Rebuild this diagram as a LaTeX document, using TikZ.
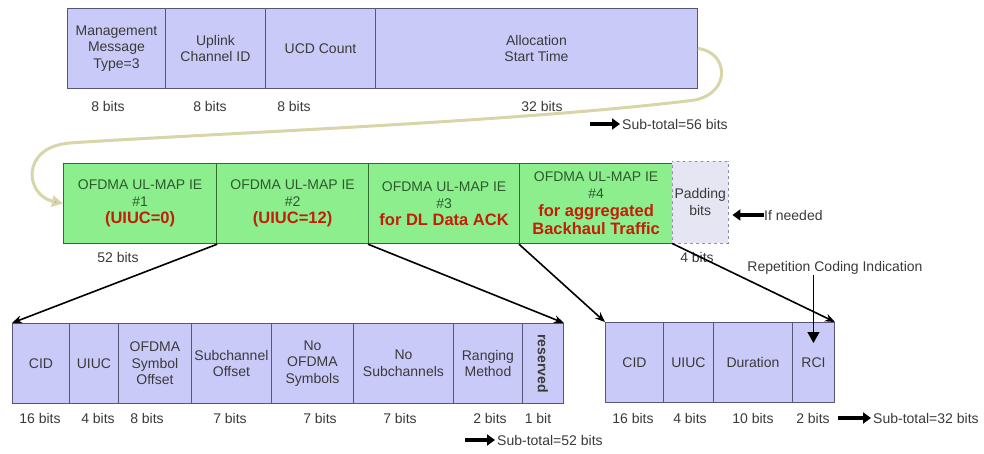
\documentclass[tikz,border=0pt]{standalone}
\usepackage{fontspec,graphicx}
\setmainfont{Liberation Sans}
\usetikzlibrary{arrows.meta,patterns}
\definecolor{Fc}{HTML}{CACAF8}
\definecolor{Fl}{HTML}{56567A}
\definecolor{Gc}{HTML}{8CEE8C}
\definecolor{Gl}{HTML}{2F6A2F}
\definecolor{Gt}{HTML}{2E5A2E}
\definecolor{Rt}{HTML}{C41E0A}
\definecolor{Pc}{HTML}{E6E6F6}
\definecolor{Cv}{HTML}{D8D6A8}
\definecolor{ink}{HTML}{3A3A3A}
\tikzset{
  fld/.style={draw=Fl, fill=Fc, line width=0.9pt, inner sep=0pt, minimum height=80pt,
    anchor=north west, align=center, text=ink, font=\fontsize{14}{16.5}\selectfont},
  ie/.style={draw=Gl, fill=Gc, line width=1.2pt, inner sep=0pt, minimum height=80pt,
    anchor=north west, align=center, text=Gt, font=\fontsize{14}{17}\selectfont},
  pad/.style={draw=Fl!70, dashed, fill=Pc, postaction={pattern=crosshatch dots, pattern color=black!10},
    inner sep=0pt, minimum height=82pt, anchor=north west, align=center, text=ink,
    font=\fontsize{14}{17}\selectfont},
  bits/.style={text=ink, inner sep=0pt, font=\fontsize{14}{16}\selectfont},
  link/.style={-{Stealth[length=10pt,width=8pt]}, line width=1.6pt},
  drop/.style={-{Triangle[length=11pt,width=12pt]}, line width=1.2pt},
  fat/.style={-{Triangle[length=8pt,width=11pt]}, line width=3.5pt},
  swoop/.style={draw=Cv, line width=3pt, -{Triangle[length=11pt,width=11pt,fill=Cv!80!black]}},
}
\newcommand{\hot}[1]{{\color{Rt}\fontsize{16.5}{19}\selectfont\bfseries #1}}

\begin{document}
\begin{tikzpicture}[x=1pt,y=-1pt]
  \fill[white] (0,0) rectangle (984,454);
  \useasboundingbox (0,0) rectangle (984,454);
  % management message header
  \node[fld, minimum width=98pt] (mmt) at (67,8) {Management\\Message\\Type=3};
  \node[fld, minimum width=100pt] (ulc) at (165,8) {Uplink\\Channel ID};
  \node[fld, minimum width=110pt] (ucd) at (265,8) {UCD Count};
  \node[fld, minimum width=322pt] (ast) at (375,8) {Allocation\\Start Time};
  \node[bits] (mmtb) at (108,106) {8 bits};
  \node[bits] (ulcb) at (210,106) {8 bits};
  \node[bits] (ucdb) at (294,106) {8 bits};
  \node[bits] (astb) at (542,106) {32 bits};
  \coordinate (s56) at (590,124);
  \node[bits, anchor=west] (sub56) at (622,124) {Sub-total=56 bits};
  \draw[fat, shorten >=2pt] (s56) -- (sub56.west);
  % UL-MAP IEs
  \node[ie, minimum width=153pt] (ie1) at (63,163) {OFDMA UL-MAP IE\\\#1\\\hot{(UIUC=0)}};
  \node[ie, minimum width=152pt] (ie2) at (216,163) {OFDMA UL-MAP IE\\\#2\\\hot{(UIUC=12)}};
  \node[ie, minimum width=151pt] (ie3) at (368,163) {OFDMA UL-MAP IE\\\#3\\\hot{for DL Data ACK}};
  \node[ie, minimum width=153pt] (ie4) at (519,163)
    {OFDMA UL-MAP IE\\\#4\\[1pt]\hot{for aggregated}\\[1pt]\hot{Backhaul Traffic}};
  \node[pad, minimum width=56pt] (pad) at (672,161) {Padding\\bits};
  \node[bits] (ie1b) at (118,257) {52 bits};
  \node[bits] (padb) at (697,257) {4 bits};
  \node[bits, anchor=west] (need) at (764,215) {If needed};
  \draw[fat, shorten >=4pt] (need.west) -- (need.west -| pad.east);
  \draw[swoop] (ast.east) .. controls (728,52) and (732,92) .. (695,100)
    .. controls (520,122) and (200,134) .. (70,143)
    .. controls (20,147) and (25,195) .. (ie1.west);
  % UIUC=0 fields
  \node[fld, minimum width=57pt] (cid) at (12,323) {CID};
  \node[fld, minimum width=49pt] (uiuc) at (69,323) {UIUC};
  \node[fld, minimum width=73pt] (sym) at (118,323) {OFDMA\\Symbol\\Offset};
  \node[fld, minimum width=80pt] (sub) at (191,323) {Subchannel\\Offset};
  \node[fld, minimum width=82pt] (nos) at (271,323) {No\\OFDMA\\Symbols};
  \node[fld, minimum width=100pt] (nsc) at (353,323) {No\\Subchannels};
  \node[fld, minimum width=69pt] (rng) at (453,323) {Ranging\\Method};
  \node[fld, minimum width=41pt] (rsv) at (522,323) {\rotatebox{-90}{\bfseries reserved}};
  \node[bits] (cidb) at (40,418) {16 bits};
  \node[bits] (uiucb) at (98,418) {4 bits};
  \node[bits] (symb) at (147,418) {8 bits};
  \node[bits] (subb) at (230,418) {7 bits};
  \node[bits] (nosb) at (320,418) {7 bits};
  \node[bits] (nscb) at (400,418) {7 bits};
  \node[bits] (rngb) at (490,418) {2 bits};
  \node[bits] (rsvb) at (538,418) {1 bit};
  \coordinate (s52) at (465,440);
  \node[bits, anchor=west] (sub52) at (497,440) {Sub-total=52 bits};
  \draw[fat, shorten >=2pt] (s52) -- (sub52.west);
  % backhaul IE fields
  \node[fld, minimum width=58pt] (cid2) at (605,322) {CID};
  \node[fld, minimum width=50pt] (uiuc2) at (663,322) {UIUC};
  \node[fld, minimum width=79pt] (dur) at (713,322) {Duration};
  \node[fld, minimum width=42pt] (rci) at (792,322) {RCI};
  \node[bits] (cid2b) at (633,418) {16 bits};
  \node[bits] (uiuc2b) at (690,418) {4 bits};
  \node[bits] (durb) at (753,418) {10 bits};
  \node[bits] (rcib) at (813,418) {2 bits};
  \node[bits, anchor=west] (sub32) at (873,418) {Sub-total=32 bits};
  \draw[fat, shorten <=8pt, shorten >=2pt] (rcib.east) -- (sub32.west);
  \node[bits] (rcil) at (835,268) {Repetition Coding Indication};
  \draw[drop] (rcil.south -| rci) -- ([yshift=-21pt]rci.north);
  % expansions
  \draw[link] (ie1.south east) -- (cid.north west);
  \draw[link] (ie3.south west) -- (rsv.north east);
  \draw[link] (ie4.south west) -- (cid2.north west);
  \draw[link] (pad.south west) -- (rci.north east);
\end{tikzpicture}
\end{document}
